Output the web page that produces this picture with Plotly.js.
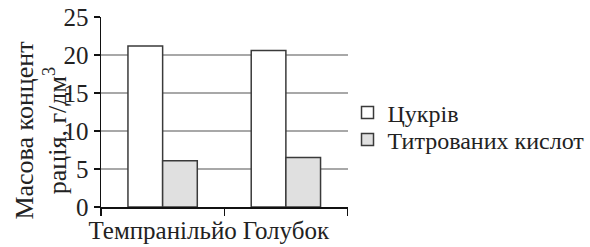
<!DOCTYPE html>
<html>
<head>
<meta charset="utf-8">
<script src="https://cdn.plot.ly/plotly-3.0.1.min.js"></script>
<style>
html,body{margin:0;padding:0;background:#fff;}
#chart{width:590px;height:247px;}
</style>
</head>
<body>
<div id="chart"></div>
<script>
const categories = ["Темпранільйо", "Голубок"];
const seriesNames = ["Цукрів", "Титрованих кислот"];
const sugars = [21.2, 20.6];
const acids = [6.1, 6.5];
const yTickVals = [0, 5, 10, 15, 20, 25];
const yTitle = "Масова концент<br>рація, г/дм<sup>3</sup>";

const FONT = "serif";

const traces = [
  {type: "bar", name: seriesNames[0], x: categories, y: sugars, legend: "legend",
   marker: {color: "#ffffff", line: {color: "#3a3a3a", width: 1.5}}},
  {type: "bar", name: seriesNames[1], x: categories, y: acids, legend: "legend2",
   marker: {color: "#e0e0e0", line: {color: "#3a3a3a", width: 1.5}}}
];

const legendBase = {xref: "container", yref: "container", xanchor: "left", yanchor: "middle", x: 0.589,
  font: {family: FONT, size: 24, color: "#222"}, bgcolor: "rgba(0,0,0,0)"};

const layout = {
  width: 590, height: 247,
  margin: {l: 101, r: 221, t: 17, b: 40, pad: 0},
  paper_bgcolor: "#ffffff", plot_bgcolor: "#ffffff",
  font: {family: FONT, color: "#222"},
  barmode: "group", bargap: 0.4375, bargroupgap: 0,
  showlegend: true,
  legend: Object.assign({}, legendBase, {y: 0.5425}),
  legend2: Object.assign({}, legendBase, {y: 0.4332}),
  xaxis: {type: "category", range: [-0.5, 1.5], showgrid: false, automargin: false,
          showline: true, linecolor: "#111", linewidth: 1.5,
          ticks: "outside", tickson: "boundaries", ticklen: 7, tickcolor: "#111", tickwidth: 1.5,
          tickangle: 0,
          tickfont: {family: FONT, size: 25, color: "#222"}},
  yaxis: {range: [0, 25], tickvals: yTickVals, showgrid: true, gridcolor: "#a8a8a8", gridwidth: 1.5,
          zeroline: false, showline: true, linecolor: "#111", linewidth: 1.5, automargin: false,
          ticks: "outside", ticklen: 6, tickcolor: "#111", tickwidth: 1.5,
          tickfont: {family: FONT, size: 25, color: "#222"}},
  annotations: [{text: yTitle, xref: "paper", yref: "paper", x: -0.245, y: 0.40,
                 xanchor: "center", yanchor: "middle", textangle: -90, showarrow: false,
                 font: {family: FONT, size: 26, color: "#222"}}]
};

Plotly.newPlot("chart", traces, layout, {staticPlot: true});
</script>
</body>
</html>
